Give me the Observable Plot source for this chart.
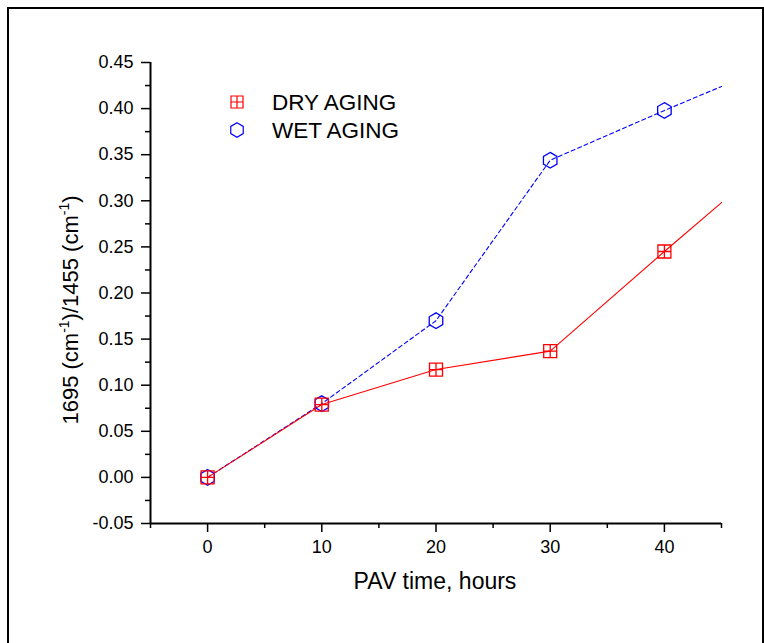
<!DOCTYPE html>
<html><head><meta charset="utf-8">
<script src="https://cdn.jsdelivr.net/npm/d3@7"></script>
<script src="https://cdn.jsdelivr.net/npm/@observablehq/plot@0.6"></script>
<style>
body{margin:0;background:#fff;}
#wrap{position:relative;width:764px;height:643px;overflow:hidden;background:#fff;}
#wrap svg{position:absolute;left:0;top:0;}
#frame{position:absolute;left:7px;top:7px;width:757px;height:720px;border:2px solid #000;box-sizing:border-box;pointer-events:none;}
</style></head><body><div id="wrap"></div>
<script>
const hours = [0, 10, 20, 30, 40];
const dryAging = [0, 0.079, 0.117, 0.137, 0.245];
const wetAging = [0, 0.080, 0.170, 0.344, 0.398];
const lineHours = [0, 10, 20, 30, 40, 45];
const dryLine = [0, 0.079, 0.117, 0.137, 0.245, 0.298];
const wetLine = [0, 0.080, 0.170, 0.344, 0.398, 0.424];
const xMajor = [0, 10, 20, 30, 40];
const xMinor = [-5, 5, 15, 25, 35, 45];
const yMajor = [-0.05, 0, 0.05, 0.10, 0.15, 0.20, 0.25, 0.30, 0.35, 0.40, 0.45];
const yMinor = [-0.025, 0.025, 0.075, 0.125, 0.175, 0.225, 0.275, 0.325, 0.375, 0.425];
const seriesNames = ["DRY AGING", "WET AGING"];

const dryPts = hours.map((h, i) => ({x: h, y: dryAging[i]}));
const wetPts = hours.map((h, i) => ({x: h, y: wetAging[i]}));
const dryLn = lineHours.map((h, i) => ({x: h, y: dryLine[i]}));
const wetLn = lineHours.map((h, i) => ({x: h, y: wetLine[i]}));

const squarePlus = {
  draw(ctx, size) {
    const r = Math.sqrt(size / Math.PI);
    ctx.moveTo(-r, -r); ctx.lineTo(r, -r); ctx.lineTo(r, r); ctx.lineTo(-r, r); ctx.closePath();
    ctx.moveTo(-r, 0); ctx.lineTo(r, 0);
    ctx.moveTo(0, -r); ctx.lineTo(0, r);
  }
};
const hexagon = {
  draw(ctx, size) {
    const R = Math.sqrt(size / Math.PI) * 1.2;
    for (let k = 0; k < 6; k++) {
      const a = -Math.PI / 2 + k * Math.PI / 3;
      const px = R * Math.cos(a), py = R * Math.sin(a);
      if (k === 0) ctx.moveTo(px, py); else ctx.lineTo(px, py);
    }
    ctx.closePath();
  }
};

const fmt = d => d3.format(".2f")(d).replace("\u2212", "-");
const plot = Plot.plot({
  width: 764,
  height: 643,
  marginLeft: 150,
  marginRight: 43,
  marginTop: 62,
  marginBottom: 120,
  style: {fontFamily: "'Liberation Sans', Arial, sans-serif", fontSize: "18px", background: "transparent", color: "#000"},
  x: {domain: [-5, 45], label: null},
  y: {domain: [-0.05, 0.45], label: null},
  marks: [
    Plot.ruleX([-5], {stroke: "#000", strokeWidth: 2}),
    Plot.ruleY([-0.05], {stroke: "#000", strokeWidth: 2}),
    Plot.axisX(xMajor, {tickSize: 9, tickPadding: 8, strokeWidth: 1.5, label: null, tickFormat: d => String(d)}),
    Plot.axisX(xMinor, {tickSize: 5, strokeWidth: 1.5, label: null, tickFormat: () => ""}),
    Plot.axisY(yMajor, {tickSize: 9, tickPadding: 8, strokeWidth: 1.5, label: null, tickFormat: fmt}),
    Plot.axisY(yMinor, {tickSize: 5, strokeWidth: 1.5, label: null, tickFormat: () => ""}),
    Plot.line(wetLn, {x: "x", y: "y", stroke: "#0000ff", strokeWidth: 1.1, strokeDasharray: "4,3"}),
    Plot.line(dryLn, {x: "x", y: "y", stroke: "#ff0000", strokeWidth: 1.1}),
    Plot.dot(wetPts, {x: "x", y: "y", symbol: hexagon, r: 6.5, stroke: "#0000ff", strokeWidth: 1.3, fill: "none"}),
    Plot.dot(dryPts, {x: "x", y: "y", symbol: squarePlus, r: 6.5, stroke: "#ff0000", strokeWidth: 1.3, fill: "none"})
  ]
});
const wrap = document.getElementById("wrap");
wrap.appendChild(plot);
const frame = document.createElement("div");
frame.id = "frame";
wrap.appendChild(frame);

const svg = d3.select(plot);
svg.selectAll("g[aria-label$='tick label']").attr("font-size", 18);
const ff = "'Liberation Sans', Arial, sans-serif";
// x axis title
svg.append("text").attr("x", 435).attr("y", 589).attr("text-anchor", "middle")
  .attr("font-family", ff).attr("font-size", 23).attr("fill", "#000").text("PAV time, hours");
// y axis title
const yt = svg.append("text").attr("transform", "translate(78,310) rotate(-90)")
  .attr("text-anchor", "middle").attr("font-family", ff).attr("font-size", 22).attr("fill", "#000");
yt.append("tspan").text("1695 (cm");
yt.append("tspan").attr("font-size", 14).attr("dy", -9).text("-1");
yt.append("tspan").attr("dy", 9).text(")/1455 (cm");
yt.append("tspan").attr("font-size", 14).attr("dy", -9).text("-1");
yt.append("tspan").attr("dy", 9).text(")");
// legend
const leg = svg.append("g").attr("text-anchor", "start");
const legSyms = [{sym: squarePlus, color: "#ff0000", y: 102}, {sym: hexagon, color: "#0000ff", y: 130}];
legSyms.forEach((s, i) => {
  leg.append("path").attr("transform", `translate(237,${s.y})`)
    .attr("d", d3.symbol(s.sym, 6 * 6 * Math.PI)())
    .attr("fill", "none").attr("stroke", s.color).attr("stroke-width", 1.2);
  leg.append("text").attr("x", 272).attr("y", s.y + 8).attr("text-anchor", "start")
    .attr("font-family", ff).attr("font-size", 22.5).attr("fill", "#000").text(seriesNames[i]);
});
</script></body></html>
